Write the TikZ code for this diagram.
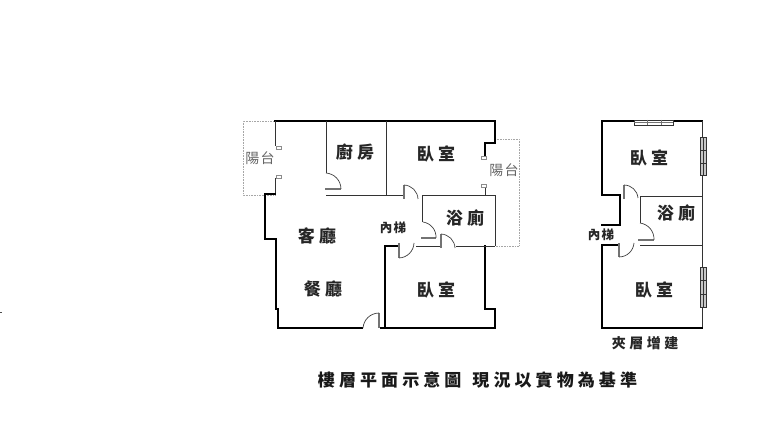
\documentclass[tikz,border=0pt]{standalone}
\usepackage{fontspec}
\newfontfamily\roomfont[LetterSpace=25]{Noto Sans CJK TC}
\newfontfamily\capfont[LetterSpace=24]{Noto Sans CJK TC}
\newfontfamily\tightfont[LetterSpace=9]{Noto Sans CJK TC}
\tikzstyle{wall} = [line width=1.2pt, black, line cap=rect]
\tikzstyle{thinwall} = [line width=.9pt, black!80]
\tikzstyle{leaf} = [line width=1.8pt, black!55]
\tikzstyle{swing} = [line width=.7pt, black!75, bend left=42]
\tikzstyle{balcony} = [line width=.6pt, black!35, densely dotted]
\tikzstyle{post} = [rectangle, draw=black!45, line width=.5pt, fill=white, minimum width=5pt, minimum height=3pt, inner sep=0pt]
\tikzstyle{glass} = [draw=black!80, line width=.7pt, fill=black!22]
\tikzstyle{mullion} = [line width=.5pt, black!80]
\tikzstyle{room} = [font=\roomfont\bfseries\fontsize{17}{17}\selectfont, inner sep=0pt, text=black!85]
\tikzstyle{small} = [font=\tightfont\bfseries\fontsize{12.5}{13}\selectfont, inner sep=0pt, text=black!85]
\tikzstyle{terrace} = [font=\tightfont\fontsize{14}{14}\selectfont, inner sep=0pt, text=black!60]
\tikzstyle{note} = [font=\roomfont\bfseries\fontsize{14}{14}\selectfont, inner sep=0pt, text=black!85]
\tikzstyle{caption} = [font=\capfont\bfseries\fontsize{17}{17}\selectfont, inner sep=0pt, text=black!90]
\begin{document}
\begin{tikzpicture}[x=1pt, y=-1pt]
    \useasboundingbox [fill=white] (0, 0) rectangle (768, 435);

    % main floor
    \draw [balcony] (275, 121) -- (243, 121) -- (243, 195) -- (275, 195);
    \draw [balcony] (495, 139) -- (519, 139) -- (519, 246) -- (495, 246);

    \draw [wall] (275, 121) -- (495, 121) -- (495, 143) -- (485, 143) -- (485, 155);
    \draw [thinwall] (275, 121) -- (275, 146) (275, 178) -- (275, 194);
    \draw [wall] (275, 194) -- (265, 194) -- (265, 239) -- (276, 239) -- (276, 309);
    \draw [wall] (278, 309) -- (278, 328) -- (362, 328);
    \draw [wall] (381, 328) -- (495, 328) -- (495, 309) -- (485, 309) -- (485, 246);
    \draw [thinwall] (495, 246) -- (495, 195) -- (422, 195) -- (422, 222);
    \draw [thinwall] (485, 195) -- (485, 188);
    \draw [thinwall] (326, 121) -- (326, 173);
    \draw [thinwall] (386, 121) -- (386, 195);
    \draw [thinwall] (326, 195) -- (403, 195);
    \draw [wall] (385, 328) -- (385, 246) -- (399, 246);
    \draw [thinwall] (416, 246) -- (441, 246);
    \draw [thinwall] (456, 246) -- (495, 246);

    \node (postA) [post] at (279, 148) {};
    \node (postB) [post] at (279, 177) {};
    \node (postC) [post] at (484, 158) {};
    \node (postD) [post] at (484, 186) {};

    \draw [leaf] (325, 189) -- (341, 189);
    \draw [swing] (326, 173) to (341, 189);
    \draw [leaf] (379, 313) -- (379, 328);
    \draw [swing] (363, 328) to (379, 313);
    \draw [leaf] (404, 185) -- (404, 199);
    \draw [swing] (404, 185) to (418, 199);
    \draw [leaf] (421, 238) -- (436, 238);
    \draw [swing] (423, 222) to (436, 238);
    \draw [leaf] (399, 243) -- (399, 258);
    \draw [swing] (414, 243) to (399, 258);
    \draw [leaf] (441, 234) -- (441, 248);
    \draw [swing] (441, 234) to (455, 248);

    % mezzanine
    \draw [wall] (602, 328) -- (602, 245) -- (618, 245);
    \draw [wall] (602, 225) -- (620, 225) -- (620, 195) -- (602, 195) -- (602, 121) -- (634, 121);
    \draw [wall] (673, 121) -- (702, 121);
    \draw [thinwall] (702, 121) -- (702, 137) (702, 175) -- (702, 267) (702, 307) -- (702, 328);
    \draw [wall] (702, 328) -- (602, 328);
    \draw [thinwall] (640, 223) -- (640, 196) -- (702, 196);
    \draw [thinwall] (640, 245) -- (702, 245);

    \draw [glass, fill=white] (634, 120) rectangle (673, 125);
    \draw [mullion, black!55] (634, 122.5) -- (673, 122.5) (647, 120) -- (647, 125) (661, 120) -- (661, 125);
    \draw [glass] (700, 137) rectangle (706, 175);
    \draw [mullion] (703, 137) -- (703, 175) (700, 150) -- (706, 150) (700, 163) -- (706, 163);
    \draw [glass] (700, 267) rectangle (706, 307);
    \draw [mullion] (703, 267) -- (703, 307) (700, 280) -- (706, 280) (700, 294) -- (706, 294);

    \draw [leaf] (624, 185) -- (624, 199);
    \draw [swing] (624, 185) to (638, 198);
    \draw [leaf] (638, 240) -- (654, 240);
    \draw [swing] (640, 223) to (654, 240);
    \draw [leaf] (619, 243) -- (619, 257);
    \draw [swing] (634, 243) to (619, 257);

    \draw [line width=1pt, black!70] (0, 313) -- (1.5, 313);

    \node (kitchen) [room] at (355, 152) {廚房};
    \node (bedN) [room] at (436, 154) {臥室};
    \node (bath) [room] at (465, 218) {浴廁};
    \node (living) [room] at (317, 236) {客廳};
    \node (dining) [room] at (323, 289) {餐廳};
    \node (bedS) [room] at (436, 290) {臥室};
    \node (stair) [small] at (393, 228) {內梯};
    \node (balconyW) [terrace] at (260, 158) {陽台};
    \node (balconyE) [terrace] at (504, 170) {陽台};

    \node (mezzN) [room] at (649, 158) {臥室};
    \node (mezzBath) [room] at (676, 213) {浴廁};
    \node (mezzS) [room] at (654, 290) {臥室};
    \node (mezzStair) [small] at (601, 235) {內梯};
    \node (mezz) [note] at (645, 343) {夾層增建};

    \node (title) [caption] at (477.5, 380) {樓層平面示意圖\hspace{11pt}現況以實物為基準};

\end{tikzpicture}
\end{document}
